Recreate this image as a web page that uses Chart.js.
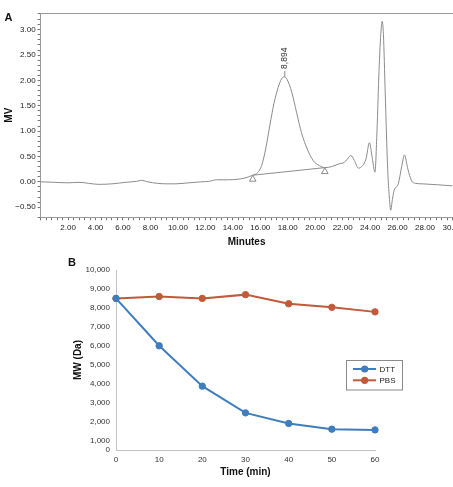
<!DOCTYPE html>
<html>
<head>
<meta charset="utf-8">
<script src="https://cdn.jsdelivr.net/npm/chart.js@4.4.1/dist/chart.umd.min.js"></script>
<style>
  html, body { margin: 0; padding: 0; background: #fff; overflow: hidden; width: 453px; height: 487px; }
  #wrapA { position: absolute; left: 0; top: 0; width: 470px; height: 248px; }
  #wrapB { position: absolute; left: 0; top: 250px; width: 453px; height: 237px; }
  .tag { position: absolute; font: bold 11px "Liberation Sans", Arial, sans-serif; color: #111; }
</style>
</head>
<body>
<div id="wrapA"><canvas id="chromChart"></canvas></div>
<div id="wrapB"><canvas id="mwChart"></canvas></div>
<div class="tag" style="left:4.5px;top:11px">A</div>
<div class="tag" style="left:68px;top:256px">B</div>
<script>
// --- A : chromatogram ---
const rtMinutes = [0, 1.0, 2.0, 2.8, 3.5, 4.2, 5.2, 6.2, 7.0, 7.35, 7.8, 8.5, 9.2, 9.8, 10.8,
  11.7, 12.3, 12.8, 13.7, 14.3, 14.8, 15.45, 15.8, 16.1, 16.4, 16.7, 17.0, 17.3, 17.55, 17.75,
  17.95, 18.3, 18.65, 19.0, 19.4, 19.85, 20.3, 20.7, 21.2, 21.8, 22.1, 22.35, 22.6, 22.85, 23.15,
  23.45, 23.7, 23.95, 24.15, 24.35, 24.5, 24.65, 24.8, 24.88, 24.97, 25.1, 25.28, 25.4, 25.5, 25.62,
  25.75, 26.05, 26.3, 26.5, 26.75, 27.0, 27.3, 27.8, 30.0];
const signalMV = [0.0, -0.01, -0.02, -0.01, -0.03, -0.05, -0.04, -0.01, 0.01, 0.03, 0.0, -0.03, -0.04, -0.04, -0.02,
  0.0, 0.01, 0.04, 0.04, 0.05, 0.07, 0.13, 0.18, 0.32, 0.66, 1.12, 1.55, 1.86, 2.03, 2.07,
  2.02, 1.76, 1.36, 0.97, 0.66, 0.42, 0.32, 0.28, 0.3, 0.36, 0.38, 0.45, 0.52, 0.42, 0.27,
  0.32, 0.45, 0.77, 0.48, 0.19, 1.0, 2.2, 3.0, 3.17, 2.9, 1.75, 0.24, -0.3, -0.56, -0.35,
  -0.17, -0.04, 0.3, 0.53, 0.25, 0.03, -0.03, -0.04, -0.08];
const baselineX = [15.45, 20.7];
const baselineY = [0.13, 0.28];
const markerY = [0.05, 0.2];
const peakTime = 17.75;
const peakMV = 2.07;
const peakLabel = "8,894";

// --- B : MW vs time ---
const timeMin = [0, 10, 20, 30, 40, 50, 60];
const dttMW = [8500, 6000, 3870, 2460, 1900, 1600, 1560];
const pbsMW = [8500, 8600, 8500, 8700, 8220, 8030, 7790];
const mwTicks = [0, 1000, 2000, 3000, 4000, 5000, 6000, 7000, 8000, 9000, 10000];

Chart.defaults.font.family = '"Liberation Sans", Arial, sans-serif';
const grey = "#8c8c8c";

const isStep = (v, step) => Math.abs(v / step - Math.round(v / step)) < 1e-6;

// small vertical label over the peak
const peakTag = {
  id: "peakTag",
  afterDatasetsDraw(chart) {
    const { ctx, scales: { x, y } } = chart;
    const px = x.getPixelForValue(peakTime);
    const py = y.getPixelForValue(peakMV);
    ctx.save();
    ctx.strokeStyle = grey;
    ctx.lineWidth = 1;
    ctx.beginPath();
    ctx.moveTo(px + 0.5, py);
    ctx.lineTo(px + 0.5, py - 6);
    ctx.stroke();
    ctx.translate(px + 0.5, py - 8);
    ctx.rotate(-Math.PI / 2);
    ctx.fillStyle = "#333";
    ctx.font = '8.5px "Liberation Sans", Arial, sans-serif';
    ctx.textAlign = "left";
    ctx.textBaseline = "middle";
    ctx.fillText(peakLabel, 0, 0);
    ctx.restore();
  }
};

new Chart(document.getElementById("chromChart"), {
  type: "line",
  data: {
    datasets: [{
      data: rtMinutes.map((t, i) => ({ x: t, y: signalMV[i] })),
      borderColor: grey,
      borderWidth: 1,
      pointRadius: 0,
      cubicInterpolationMode: "monotone",
      fill: false
    }, {
      data: baselineX.map((t, i) => ({ x: t, y: baselineY[i] })),
      borderColor: grey,
      borderWidth: 1,
      pointRadius: 0,
      tension: 0
    }, {
      data: baselineX.map((t, i) => ({ x: t, y: markerY[i] })),
      showLine: false,
      pointStyle: "triangle",
      pointRadius: 3.8,
      borderColor: grey,
      borderWidth: 1,
      backgroundColor: "rgba(255,255,255,0)"
    }]
  },
  options: {
    responsive: true,
    maintainAspectRatio: false,
    animation: false,
    layout: { padding: { top: 13, right: 17.5, left: 0, bottom: 0 } },
    plugins: { legend: { display: false }, tooltip: { enabled: false } },
    scales: {
      x: {
        type: "linear", min: 0, max: 30,
        grid: { display: true, drawOnChartArea: false, tickLength: 3, color: "#777" },
        border: { color: "#999" },
        ticks: {
          stepSize: 0.4, autoSkip: false, maxRotation: 0, padding: 3,
          font: { size: 8 }, color: "#222",
          callback: v => (v > 0 && isStep(v, 2)) ? Number(v).toFixed(2) : ""
        },
        title: { display: true, text: "Minutes", font: { size: 10, weight: "bold" }, color: "#111", padding: 0 },
        afterFit: s => { s.height = 30.7; s.paddingLeft = 0; s.paddingRight = 0; }
      },
      x2: {
        type: "linear", position: "top", min: 0, max: 30,
        grid: { display: false },
        ticks: { display: false },
        border: { color: "#999" },
        afterFit: s => { s.height = 0; }
      },
      y: {
        min: -0.7, max: 3.33,
        grid: { display: true, drawOnChartArea: false, tickLength: 3, color: "#777" },
        border: { color: "#999" },
        ticks: {
          stepSize: 0.1, autoSkip: false, padding: 2,
          font: { size: 8 }, color: "#222",
          callback: v => isStep(v, 0.5) ? Number(v).toFixed(2).replace("-", "\u2212") : ""
        },
        title: { display: true, text: "MV", font: { size: 10, weight: "bold" }, color: "#111", padding: { top: 3.3, bottom: 0 } },
        afterFit: s => { s.width = 40.6; }
      }
    }
  },
  plugins: [peakTag]
});

// legend drawn inside the plot
const boxLegend = {
  id: "boxLegend",
  afterDraw(chart) {
    const ctx = chart.ctx;
    ctx.save();
    ctx.fillStyle = "#fff";
    ctx.fillRect(346.5, 110.5, 56, 29.5);
    ctx.strokeStyle = "#8a8a8a";
    ctx.lineWidth = 1;
    ctx.strokeRect(346.5, 110.5, 56, 29.5);
    chart.data.datasets.forEach((ds, i) => {
      const yy = 119 + i * 11.3;
      ctx.strokeStyle = ds.borderColor;
      ctx.lineWidth = 2;
      ctx.beginPath();
      ctx.moveTo(353, yy);
      ctx.lineTo(376, yy);
      ctx.stroke();
      ctx.fillStyle = ds.backgroundColor;
      ctx.beginPath();
      ctx.arc(364.7, yy, 3.6, 0, Math.PI * 2);
      ctx.fill();
      ctx.fillStyle = "#222";
      ctx.font = '8px "Liberation Sans", Arial, sans-serif';
      ctx.textBaseline = "middle";
      ctx.fillText(ds.label, 379.5, yy + 0.5);
    });
    ctx.restore();
  }
};

new Chart(document.getElementById("mwChart"), {
  type: "line",
  data: {
    labels: timeMin,
    datasets: [{
      label: "DTT",
      data: dttMW,
      borderColor: "#3f7dbd",
      backgroundColor: "#3f7dbd",
      borderWidth: 2,
      pointRadius: 3.2,
      pointBorderWidth: 1,
      tension: 0
    }, {
      label: "PBS",
      data: pbsMW,
      borderColor: "#c05a3a",
      backgroundColor: "#c05a3a",
      borderWidth: 2,
      pointRadius: 3.2,
      pointBorderWidth: 1,
      tension: 0
    }]
  },
  options: {
    responsive: true,
    maintainAspectRatio: false,
    animation: false,
    layout: { padding: { left: 66, top: 20, right: 78, bottom: 0 } },
    plugins: { legend: { display: false }, tooltip: { enabled: false } },
    scales: {
      x: {
        grid: { display: false, drawTicks: false },
        border: { color: "#c4c4c4" },
        ticks: { padding: 5, font: { size: 8 }, color: "#333", maxRotation: 0 },
        title: { display: true, text: "Time (min)", font: { size: 10, weight: "bold" }, color: "#111", padding: { top: 0, bottom: 9 } },
        afterFit: s => { s.height = 37; s.paddingRight = 0; }
      },
      y: {
        min: 500, max: 10000,
        afterBuildTicks: s => { s.ticks = mwTicks.map(v => ({ value: Math.max(v, 500) })); },
        grid: { display: false, drawTicks: false },
        border: { color: "#c4c4c4" },
        ticks: { padding: 6, font: { size: 8 }, color: "#333", callback: (v, i) => mwTicks[i].toLocaleString("en-US") },
        title: { display: true, text: "MW (Da)", font: { size: 10, weight: "bold" }, color: "#111", padding: { top: 6, bottom: 0 } },
        afterFit: s => { s.width = 50; }
      }
    }
  },
  plugins: [boxLegend]
});
</script>
</body>
</html>
